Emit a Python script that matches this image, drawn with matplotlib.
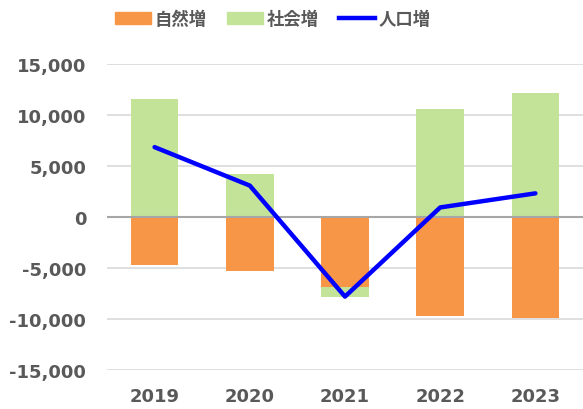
import matplotlib
matplotlib.use('Agg')
import matplotlib.pyplot as plt
from matplotlib.patches import Patch
from matplotlib.lines import Line2D

years = ['2019', '2020', '2021', '2022', '2023']
natural = [-4750, -5340, -6850, -9700, -9920]   # 自然増
social = [11600, 4220, -980, 10540, 12140]      # 社会増
total = [6850, 3080, -7800, 940, 2320]          # 人口増

ORANGE = '#F79646'
GREEN = '#C3E399'
BLUE = '#0000FF'
GRAY = '#595959'

plt.rcParams['font.family'] = ['DejaVu Sans', 'Noto Sans CJK JP']

fig = plt.figure(figsize=(5.83, 4.10), dpi=100)
ax = fig.add_axes([0.1835, 0.095, 0.8165, 0.7465])

x = list(range(len(years)))
# 社会増はプラスなら0から、マイナスなら自然増の下に積む
soc_bottom = [0 if s >= 0 else n for s, n in zip(social, natural)]
ax.bar(x, natural, width=0.5, color=ORANGE, zorder=2)
ax.bar(x, social, width=0.5, bottom=soc_bottom, color=GREEN, zorder=2)
ax.plot(x, total, color=BLUE, linewidth=3.2, solid_capstyle='round', zorder=4)

ax.set_xlim(-0.5, len(years) - 0.5)
ax.set_ylim(-15000, 15000)
ax.set_yticks(range(-15000, 15001, 5000))
ax.set_yticklabels([f'{v:,}' for v in range(-15000, 15001, 5000)])
ax.set_xticks(x)
ax.set_xticklabels(years)
ax.yaxis.grid(True, color='#D9D9D9', linewidth=1.2, zorder=0)
ax.axhline(0, color='#A6A6A6', linewidth=1.5, zorder=3)
for s in ax.spines.values():
    s.set_visible(False)
ax.tick_params(length=0, labelsize=13, labelcolor=GRAY)
for lab in ax.get_xticklabels() + ax.get_yticklabels():
    lab.set_fontweight('bold')
ax.tick_params(axis='y', pad=15)
ax.tick_params(axis='x', pad=12)

handles = [Patch(color=ORANGE), Patch(color=GREEN),
           Line2D([], [], color=BLUE, linewidth=3.2)]
fig.legend(handles, ['自然増', '社会増', '人口増'], ncol=3, frameon=False,
           loc='center', bbox_to_anchor=(0.468, 0.951),
           prop={'family': 'Noto Sans CJK JP', 'weight': 'bold', 'size': 12.5},
           labelcolor=GRAY, handlelength=2.1, handleheight=0.75,
           handletextpad=0.2, columnspacing=1.15)

fig.savefig('out.png', dpi=100)
